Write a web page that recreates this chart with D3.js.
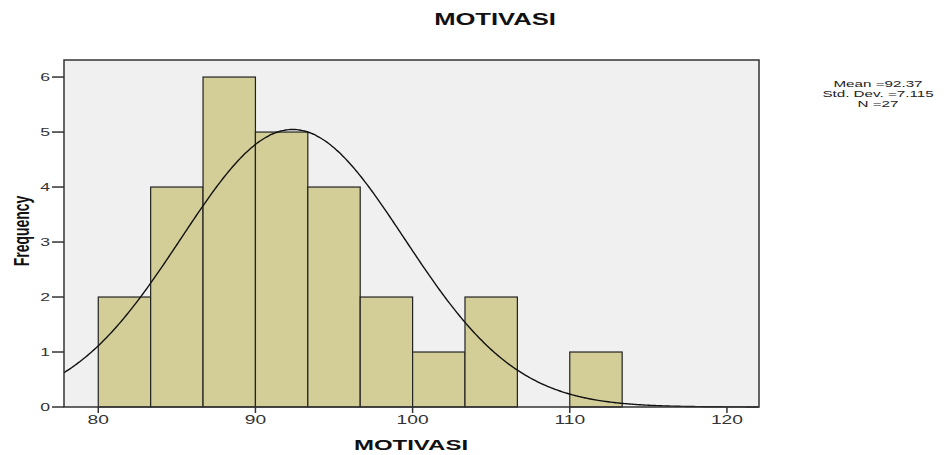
<!DOCTYPE html>
<html>
<head>
<meta charset="utf-8">
<script src="https://cdn.jsdelivr.net/npm/d3@7"></script>
<style>
  body { margin: 0; background: #fff; }
  text { font-family: "Liberation Sans", Arial, sans-serif; fill: #111; }
</style>
</head>
<body>
<div class="chart"></div>
<script>
// histogram data
const binStarts = [80, 83.333, 86.667, 90, 93.333, 96.667, 100, 103.333, 106.667, 110];
const counts = [2, 4, 6, 5, 4, 2, 1, 2, 0, 1];
const binWidth = 10 / 3;
const xTicks = [80, 90, 100, 110, 120];
const yTicks = [0, 1, 2, 3, 4, 5, 6];
const stats = { mean: 92.37, sd: 7.115, n: 27 };
const statLines = ['Mean =92.37', 'Std. Dev. =7.115', 'N =27'];

const width = 951, height = 455;
const sx = 1.6; // the picture is stretched sideways, text too

const svg = d3.select('.chart').append('svg')
  .attr('width', width)
  .attr('height', height);

const x = d3.scaleLinear().domain([77.82, 122.04]).range([64, 759]);
const y = d3.scaleLinear().domain([0, 6.31]).range([407, 60]);

// plot background
svg.append('rect')
  .attr('x', x.range()[0]).attr('y', y.range()[1])
  .attr('width', x.range()[1] - x.range()[0])
  .attr('height', y.range()[0] - y.range()[1])
  .attr('fill', '#f0f0f0');

// bars
svg.selectAll('.bar')
  .data(binStarts.map((s, i) => ({ s: s, c: counts[i] })).filter(d => d.c > 0))
  .enter().append('rect')
  .attr('class', 'bar')
  .attr('x', d => x(d.s))
  .attr('y', d => y(d.c))
  .attr('width', d => x(d.s + binWidth) - x(d.s))
  .attr('height', d => y(0) - y(d.c))
  .attr('fill', '#d3ce97')
  .attr('stroke', '#222')
  .attr('stroke-width', 1.2);

// normal curve
const pdf = v => stats.n * binWidth / (stats.sd * Math.sqrt(2 * Math.PI)) *
  Math.exp(-0.5 * Math.pow((v - stats.mean) / stats.sd, 2));
const xs = d3.range(x.domain()[0], x.domain()[1], 0.1);
const line = d3.line().x(d => x(d)).y(d => y(pdf(d))).curve(d3.curveBasis);
svg.append('path')
  .attr('d', line(xs))
  .attr('fill', 'none')
  .attr('stroke', '#111')
  .attr('stroke-width', 1.4);

// frame
svg.append('rect')
  .attr('x', x.range()[0]).attr('y', y.range()[1])
  .attr('width', x.range()[1] - x.range()[0])
  .attr('height', y.range()[0] - y.range()[1])
  .attr('fill', 'none')
  .attr('stroke', '#333')
  .attr('stroke-width', 1.5);

// y axis ticks + labels
svg.selectAll('.ytick').data(yTicks).enter().append('line')
  .attr('x1', 52).attr('x2', 64)
  .attr('y1', d => y(d)).attr('y2', d => y(d))
  .attr('stroke', '#333').attr('stroke-width', 1.5);
svg.selectAll('.ylab').data(yTicks).enter().append('text')
  .attr('transform', d => `translate(50,${y(d) + 4}) scale(${sx},1)`)
  .attr('text-anchor', 'end')
  .style('font-size', '11px')
  .style('fill', '#333')
  .text(d => d);

// x axis ticks + labels
svg.selectAll('.xtick').data(xTicks).enter().append('line')
  .attr('x1', d => x(d)).attr('x2', d => x(d))
  .attr('y1', 407).attr('y2', 413)
  .attr('stroke', '#333').attr('stroke-width', 1.5);
svg.selectAll('.xlab').data(xTicks).enter().append('text')
  .attr('transform', d => `translate(${x(d)},424) scale(${sx},1)`)
  .attr('text-anchor', 'middle')
  .style('font-size', '12px')
  .style('fill', '#333')
  .text(d => d);

// titles
svg.append('text')
  .attr('transform', `translate(495,25) scale(${sx},1)`)
  .attr('text-anchor', 'middle')
  .style('font-size', '16px').style('font-weight', 'bold')
  .text('MOTIVASI');
svg.append('text')
  .attr('transform', `translate(411,450) scale(${sx},1)`)
  .attr('text-anchor', 'middle')
  .style('font-size', '15px').style('font-weight', 'bold')
  .text('MOTIVASI');
svg.append('text')
  .attr('transform', `translate(29,231) scale(${sx},1) rotate(-90)`)
  .attr('text-anchor', 'middle')
  .style('font-size', '14px').style('font-weight', 'bold')
  .text('Frequency');

// stats box text
svg.selectAll('.stat').data(statLines).enter().append('text')
  .attr('transform', (d, i) => `translate(878,${87 + i * 10}) scale(${sx},1)`)
  .attr('text-anchor', 'middle')
  .style('font-size', '9.5px')
  .style('fill', '#222')
  .text(d => d);
</script>
</body>
</html>
